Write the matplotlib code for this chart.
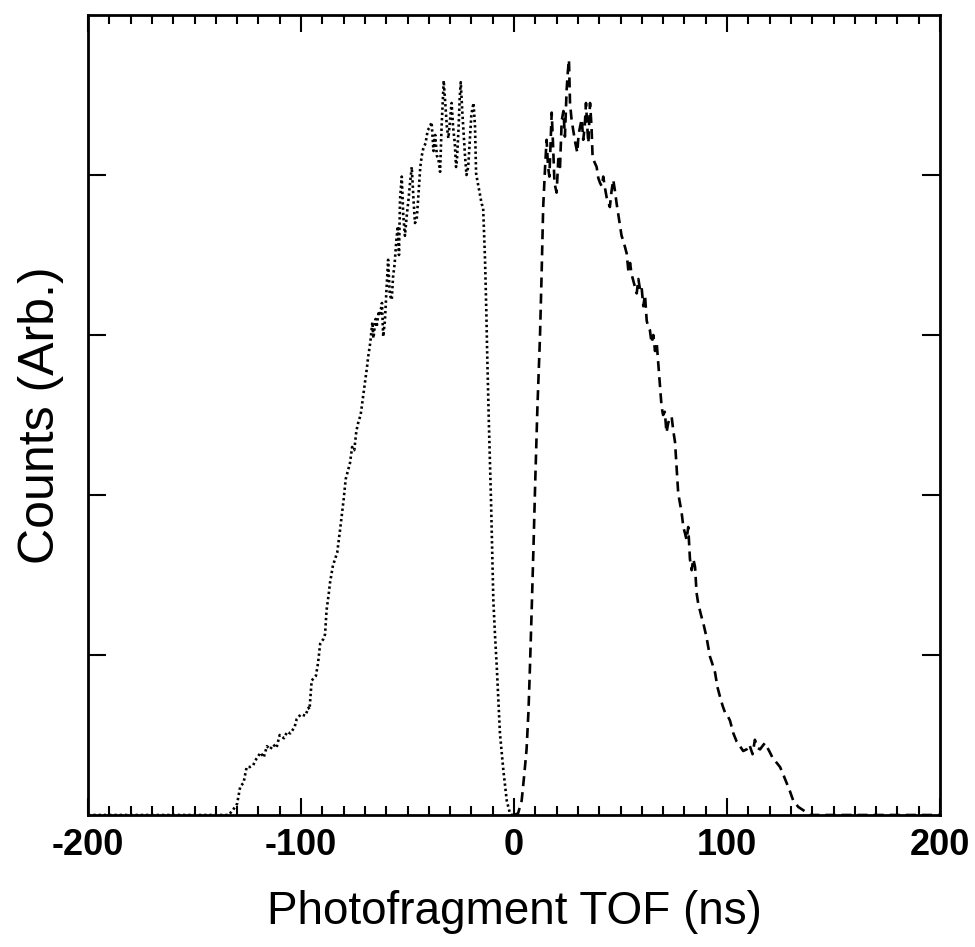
import matplotlib
matplotlib.use("Agg")
import matplotlib.pyplot as plt
from matplotlib.ticker import MultipleLocator, NullFormatter

plt.rcParams['font.family'] = ['Liberation Sans', 'DejaVu Sans']
plt.rcParams['axes.unicode_minus'] = False

# Dotted curve (negative TOF)
left_x = [-200, -140, -134, -132, -130, -128.5, -127, -125.5, -124, -122.5, -121, -119, -117.5, -116,
          -114.5, -113, -111.5, -110, -108, -106.5, -105, -103, -102, -100, -98, -96.5, -96, -95, -93,
          -92, -91, -89.5, -88.7, -88, -87, -86.4, -85, -83, -81.5, -80, -79, -78, -77, -76, -75, -74,
          -73, -72, -71, -70, -69, -68.5, -67.5, -66.5, -66, -65, -64.5, -63.5, -63, -62, -61.4, -60.6,
          -59.8, -59.1, -58.3, -57.4, -56.8, -56, -55.2, -54.5, -54, -53.5, -52.7, -52, -51.2, -50.4,
          -49.5, -48.8, -48, -47.2, -46.5, -45.7, -45, -44, -43.3, -42.7, -41.5, -40.5, -39.5, -38.7,
          -37.8, -37, -36.2, -35.5, -34.7, -34, -33.5, -33, -32.3, -31.5, -30.8, -30, -29.3, -28.6,
          -27.8, -27.2, -26.8, -26, -25.5, -25, -24.3, -23.6, -23, -22.3, -21.5, -20.8, -20, -19,
          -18.3, -17.8, -17, -16, -15.2, -14.5, -13.6, -13, -12.6, -11.8, -10.8, -9.7, -8.9, -8.1,
          -7.3, -6.6, -5, -3.4, -1.9, -1, 0]
left_y = [0, 0, 0.0, 0.03, 0.07, 0.18, 0.2, 0.3, 0.3, 0.31, 0.35, 0.39, 0.36, 0.43,
          0.41, 0.44, 0.42, 0.5, 0.48, 0.52, 0.51, 0.55, 0.6, 0.63, 0.62, 0.67, 0.66, 0.84, 0.87,
          0.95, 1.07, 1.1, 1.13, 1.28, 1.38, 1.45, 1.56, 1.64, 1.8, 1.97, 2.1, 2.15, 2.2, 2.3, 2.28, 2.4,
          2.46, 2.5, 2.6, 2.7, 2.8, 2.86, 2.95, 3.08, 2.98, 3.1, 3.05, 3.15, 3.12, 3.2, 2.99, 3.09,
          3.3, 3.47, 3.25, 3.22, 3.36, 3.45, 3.6, 3.68, 3.5, 3.85, 3.99, 3.75, 3.62, 3.74,
          3.85, 3.95, 4.05, 3.85, 3.7, 3.72, 3.85, 4.05, 4.12, 4.16, 4.2, 4.28, 4.3, 4.33,
          4.15, 4.25, 4.12, 4.1, 4.02, 4.3, 4.45, 4.59, 4.45, 4.3, 4.23, 4.35, 4.45, 4.3,
          4.2, 4.05, 4.09, 4.3, 4.48, 4.58, 4.4, 4.25, 4.12, 4.0, 4.05, 4.2, 4.38, 4.45,
          4.3, 4.01, 3.95, 3.88, 3.82, 3.8, 3.47, 3.15, 2.89, 2.45, 1.97, 1.34, 1.12, 0.93,
          0.7, 0.51, 0.28, 0.09, 0.01, 0, 0]

# Dashed curve (positive TOF)
right_x = [0, 1.9, 3.6, 4.8, 5.9, 6.8, 7.5, 8.3, 9.2, 10, 11, 12.2, 13, 13.7, 14.6, 15.3, 16, 16.6,
           17.2, 17.7, 18.3, 19, 20, 20.8, 21.6, 22.4, 23.2, 23.9, 24.7, 25.3, 25.8, 26.3, 27, 27.8,
           28.8, 29.7, 30.3, 31, 31.8, 32.5, 33.2, 33.8, 34.4, 34.9, 35.4, 35.7, 36.4, 36.9, 37.8,
           38.8, 39.6, 40.4, 41.2, 41.9, 42.7, 43.5, 44.3, 45, 45.8, 46.6, 47.4, 48.2, 49, 49.8,
           50.5, 51.3, 52.1, 52.9, 53.7, 54.5, 55.2, 56, 56.8, 57.6, 58.4, 59.2, 59.9, 60.7, 61.5,
           62.3, 63, 63.8, 64.6, 65.4, 66.2, 67, 67.7, 68.5, 69.3, 70, 70.8, 71.6, 72.4, 73.2, 74,
           74.8, 75.6, 76.3, 77.1, 77.9, 78.7, 79.5, 80.3, 81, 81.8, 82.6, 83.4, 84.2, 85, 85.7,
           86.5, 88, 89.2, 90.4, 92, 93, 94.4, 95.5, 96.7, 98, 99.1, 100.3, 101.4, 102.2, 103,
           104.5, 106.1, 107.6, 109.2, 110.5, 112, 113.1, 114.3, 115.5, 116.6, 117.8, 119, 120.2,
           121.3, 122.5, 124.9, 126.5, 128, 129.5, 131.1, 133.5, 135.8, 139, 200]
right_y = [0, 0.01, 0.09, 0.25, 0.41, 0.65, 0.93, 1.28, 1.7, 2.1, 2.55, 2.99, 3.4, 3.8, 4.05, 4.22, 4.05, 3.99,
           4.2, 4.39, 4.2, 3.95, 3.89, 4.1, 4.05, 4.34, 4.4, 4.24, 4.53, 4.65, 4.72, 4.45, 4.35, 4.28,
           4.2, 4.14, 4.25, 4.3, 4.35, 4.22, 4.3, 4.45, 4.3, 4.2, 4.35, 4.45, 4.3, 4.11, 4.08,
           4.05, 3.98, 3.95, 3.93, 3.99, 3.92, 3.86, 3.83, 3.8, 3.9, 3.97, 3.9, 3.82, 3.75, 3.68,
           3.62, 3.59, 3.55, 3.51, 3.4, 3.45, 3.38, 3.34, 3.3, 3.26, 3.35, 3.28, 3.3, 3.18, 3.25,
           3.09, 3.05, 3.03, 2.95, 3.0, 2.9, 2.95, 2.83, 2.7, 2.55, 2.5, 2.52, 2.39, 2.45, 2.48, 2.49,
           2.4, 2.33, 2.18, 2.01, 1.95, 1.89, 1.8, 1.76, 1.72, 1.8, 1.6, 1.53, 1.6, 1.55, 1.39,
           1.32, 1.24, 1.18, 1.11, 0.99, 0.95, 0.89, 0.8, 0.74, 0.68, 0.64, 0.62, 0.59, 0.55, 0.51,
           0.46, 0.43, 0.4, 0.41, 0.44, 0.38, 0.47, 0.42, 0.41, 0.43, 0.45, 0.42, 0.39,
           0.36, 0.34, 0.3, 0.25, 0.2, 0.15, 0.09, 0.05, 0.03, 0, 0]

xticks = [-200, -100, 0, 100, 200]
yticks = [1, 2, 3, 4]

fig = plt.figure(figsize=(9.75, 9.47), dpi=100)
ax = fig.add_axes([88/975, 132/947, 852/975, 800/947])

ax.plot(left_x, left_y, color='black', lw=1.9, linestyle=(0, (0.9, 1.1)))
ax.plot(right_x, right_y, color='black', lw=1.9, linestyle=(0, (3.8, 2.3)))

ax.set_xlim(-200, 200)
ax.set_ylim(0, 5)
ax.set_xticks(xticks)
ax.xaxis.set_minor_locator(MultipleLocator(10))
ax.set_yticks(yticks)
ax.yaxis.set_major_formatter(NullFormatter())

ax.tick_params(axis='x', which='major', direction='in', length=12.5, width=1.5,
               top=True, labelsize=26, pad=9)
ax.tick_params(axis='y', which='major', direction='in', length=13, width=1.5, right=True)
ax.tick_params(axis='x', which='minor', direction='in', length=6.5, width=1.5, top=True)
for lab in ax.get_xticklabels():
    lab.set_fontweight('bold')
for s in ax.spines.values():
    s.set_linewidth(2)

ax.set_xlabel('Photofragment TOF (ns)', fontsize=33, labelpad=20)
ax.set_ylabel('Counts (Arb.)', fontsize=36, labelpad=14)

fig.savefig('out.png', dpi=100)
